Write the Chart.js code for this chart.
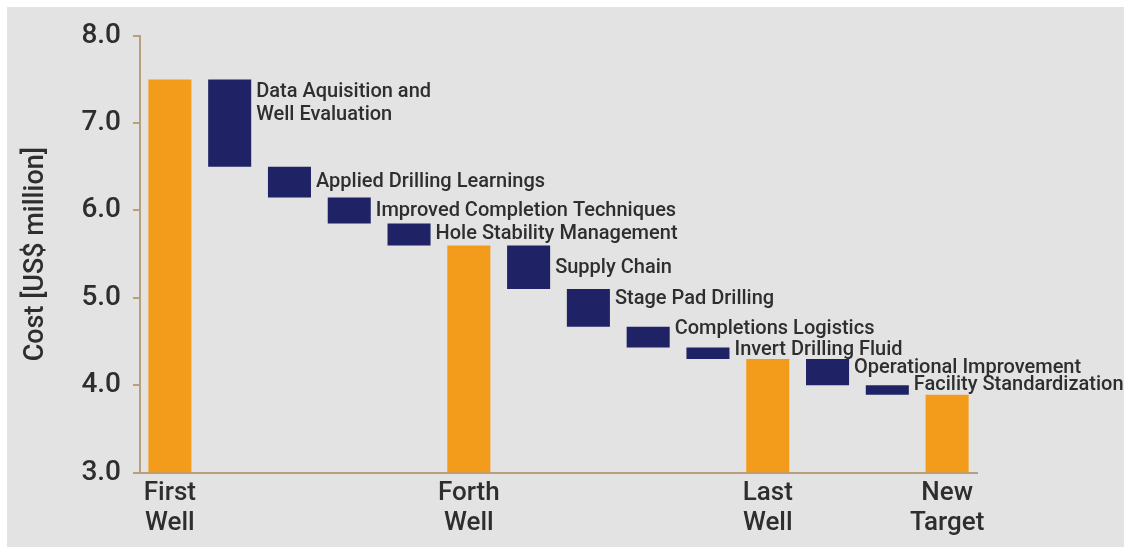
<!DOCTYPE html>
<html>
<head>
<meta charset="utf-8">
<script src="https://cdn.jsdelivr.net/npm/chart.js@4/dist/chart.umd.min.js"></script>
<style>
  body { margin: 0; background: #fff; }
  #wrap { position: absolute; left: 7px; top: 7px; width: 1117px; height: 540px; background: #e3e3e3; }
</style>
</head>
<body>
<div id="wrap"><canvas id="myChart"></canvas></div>
<script>
// categories, left to right
var categories = [
  'First Well', 'Data Aquisition and Well Evaluation', 'Applied Drilling Learnings',
  'Improved Completion Techniques', 'Hole Stability Management', 'Forth Well',
  'Supply Chain', 'Stage Pad Drilling', 'Completions Logistics', 'Invert Drilling Fluid',
  'Last Well', 'Operational Improvement', 'Facility Standardization', 'New Target'
];
var kinds = ['total', 'step', 'step', 'step', 'step', 'total',
             'step', 'step', 'step', 'step', 'total', 'step', 'step', 'total'];
// bar bottoms and tops, US$ million
var barLow  = [3.0, 6.5, 6.15, 5.85, 5.6, 3.0, 5.1, 4.67, 4.43, 4.3, 3.0, 4.0, 3.89, 3.0];
var barHigh = [7.5, 7.5, 6.5, 6.15, 5.85, 5.6, 5.6, 5.1, 4.67, 4.43, 4.3, 4.3, 4.0, 3.89];
// axis labels
var tickLabels = [['First', 'Well'], '', '', '', '', ['Forth', 'Well'], '', '', '', '',
                  ['Last', 'Well'], '', '', ['New', 'Target']];
var stepLabels = ['', ['Data Aquisition and', 'Well Evaluation'], 'Applied Drilling Learnings',
  'Improved Completion Techniques', 'Hole Stability Management', '', 'Supply Chain',
  'Stage Pad Drilling', 'Completions Logistics', 'Invert Drilling Fluid', '',
  'Operational Improvement', 'Facility Standardization', ''];
var yTicks = [3, 4, 5, 6, 7, 8];

var ORANGE = '#f39c1c';
var NAVY = '#1f2366';
var AXIS = '#b79f7c';
var TEXT = '#2e2e2e';
var FONT = 'Roboto, "DejaVu Sans", sans-serif';

// label vertical offset from bar top, px
var labelNudge = [0, 11, 13.5, 12, 8.5, 0, 20.5, 8, 0.5, 0, 0, 7, -2, 0];

var stepLabelPlugin = {
  id: 'stepLabels',
  afterDatasetsDraw(chart) {
    var ctx = chart.ctx;
    var meta = chart.getDatasetMeta(0);
    ctx.save();
    ctx.font = '500 20px ' + FONT;
    ctx.fillStyle = TEXT;
    ctx.textAlign = 'left';
    ctx.textBaseline = 'alphabetic';
    meta.data.forEach(function(bar, i) {
      var txt = stepLabels[i];
      if (!txt) return;
      var lines = Array.isArray(txt) ? txt : [txt];
      var top = Math.min(bar.y, bar.base);
      var x = bar.x + bar.width / 2 + 5;
      lines.forEach(function(line, j) {
        ctx.fillText(line, x, top + labelNudge[i] + 7 + j * 23);
      });
    });
    ctx.restore();
  }
};

var ctx = document.getElementById('myChart').getContext('2d');
var myChart = new Chart(ctx, {
  type: 'bar',
  data: {
    labels: categories,
    datasets: [{
      data: barLow.map(function(lo, i) { return [lo, barHigh[i]]; }),
      backgroundColor: kinds.map(function(k) { return k === 'total' ? ORANGE : NAVY; }),
      borderWidth: 0,
      barPercentage: 0.72,
      categoryPercentage: 1.0
    }]
  },
  options: {
    responsive: true,
    maintainAspectRatio: false,
    animation: false,
    layout: { padding: { left: 0, top: 26, right: 147, bottom: 0 } },
    plugins: {
      legend: { display: false },
      tooltip: { enabled: false }
    },
    scales: {
      x: {
        grid: { display: false, drawTicks: false },
        border: { color: AXIS, width: 2 },
        ticks: {
          autoSkip: false,
          maxRotation: 0,
          padding: 6,
          color: TEXT,
          font: { family: FONT, size: 26, weight: '500', lineHeight: 1.15 },
          callback: function(v, i) { return tickLabels[i]; }
        },
        afterFit: function(axis) { axis.height = 74.5; }
      },
      y: {
        min: 3,
        max: 8,
        afterBuildTicks: function(axis) {
          axis.ticks = yTicks.map(function(v) { return { value: v }; });
        },
        grid: { drawOnChartArea: false, color: AXIS, tickLength: 7, lineWidth: 2 },
        border: { color: AXIS, width: 2 },
        ticks: {
          padding: 12,
          color: TEXT,
          font: { family: FONT, size: 28, weight: '500' },
          callback: function(v) { return v.toFixed(1); }
        },
        title: {
          display: true,
          text: 'Cost [US$ million]',
          color: TEXT,
          font: { family: FONT, size: 27, weight: '500' },
          padding: { top: 13, bottom: 0 }
        },
        afterFit: function(axis) { axis.width = 133; }
      }
    }
  },
  plugins: [stepLabelPlugin]
});
</script>
</body>
</html>
